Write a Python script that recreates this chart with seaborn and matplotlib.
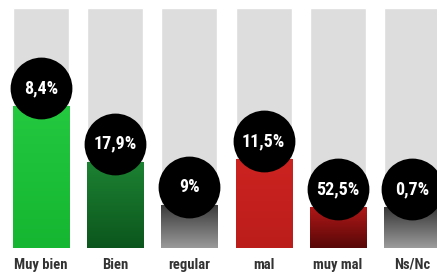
import numpy as np
import pandas as pd
import matplotlib
matplotlib.use("Agg")
import matplotlib.pyplot as plt
import seaborn as sns
from matplotlib.colors import LinearSegmentedColormap
from matplotlib import font_manager

# ---- data ----
categories = ["Muy bien", "Bien", "regular", "mal", "muy mal", "Ns/Nc"]
percent_labels = ["8,4%", "17,9%", "9%", "11,5%", "52,5%", "0,7%"]
# height of the coloured part of each bar, as % of the grey track
fill_levels = [59, 36, 18, 37, 17, 17]
track_levels = [100, 100, 100, 100, 100, 100]
top_colors = ["#24c940", "#1c8232", "#383838", "#cc2320", "#b01717", "#363636"]
bottom_colors = ["#15b631", "#0c561d", "#9a9a9a", "#bb1d1b", "#580808", "#9c9c9c"]

sns.set_theme(style="white")
avail = {f.name for f in font_manager.fontManager.ttflist}
fam = next((f for f in ["Roboto Condensed", "Liberation Sans Narrow", "Roboto", "DejaVu Sans"]
            if f in avail), "DejaVu Sans")
plt.rcParams["font.family"] = [fam, "DejaVu Sans"]

fig = plt.figure(figsize=(4.37, 2.75), dpi=100)
fig.patch.set_facecolor("white")
ax = fig.add_axes([0, 27 / 275, 1, 240 / 275])

df = pd.DataFrame({"cat": categories, "track": track_levels, "fill": fill_levels})
sns.barplot(data=df, x="cat", y="track", color="#dddddd", width=0.755, ax=ax,
            saturation=1, errorbar=None)
sns.barplot(data=df, x="cat", y="fill", color="#888888", width=0.755, ax=ax,
            saturation=1, errorbar=None)

grad = np.linspace(0, 1, 256).reshape(-1, 1)
for p, top, bot in zip(ax.containers[1], top_colors, bottom_colors):
    x0, w, h = p.get_x(), p.get_width(), p.get_height()
    cmap = LinearSegmentedColormap.from_list("g", [bot, top])
    im = ax.imshow(grad, extent=[x0, x0 + w, 0, h], origin="lower", cmap=cmap,
                   aspect="auto", zorder=3, interpolation="bilinear")
    im.set_clip_path(p)

xs = [p.get_x() + p.get_width() / 2 for p in ax.containers[1]]
ys = np.array(fill_levels) + 7.5
ax.scatter(xs, ys, s=1980, color="black", zorder=5, clip_on=False, linewidths=0)
for x, y, lab in zip(xs, ys, percent_labels):
    ax.text(x, y, lab, color="white", ha="center", va="center", fontsize=13,
            fontweight="bold", zorder=6)

ax.set_xlim(-0.5526, 5.337)
ax.set_ylim(0, 100)
ax.set_xlabel("")
ax.set_ylabel("")
ax.set_yticks([])
ax.tick_params(axis="x", length=0, pad=7, labelsize=10.5, labelcolor="#333333")
for t in ax.get_xticklabels():
    t.set_fontweight("bold")
for s in ax.spines.values():
    s.set_visible(False)

fig.savefig("out.png", dpi=100, facecolor="white")
